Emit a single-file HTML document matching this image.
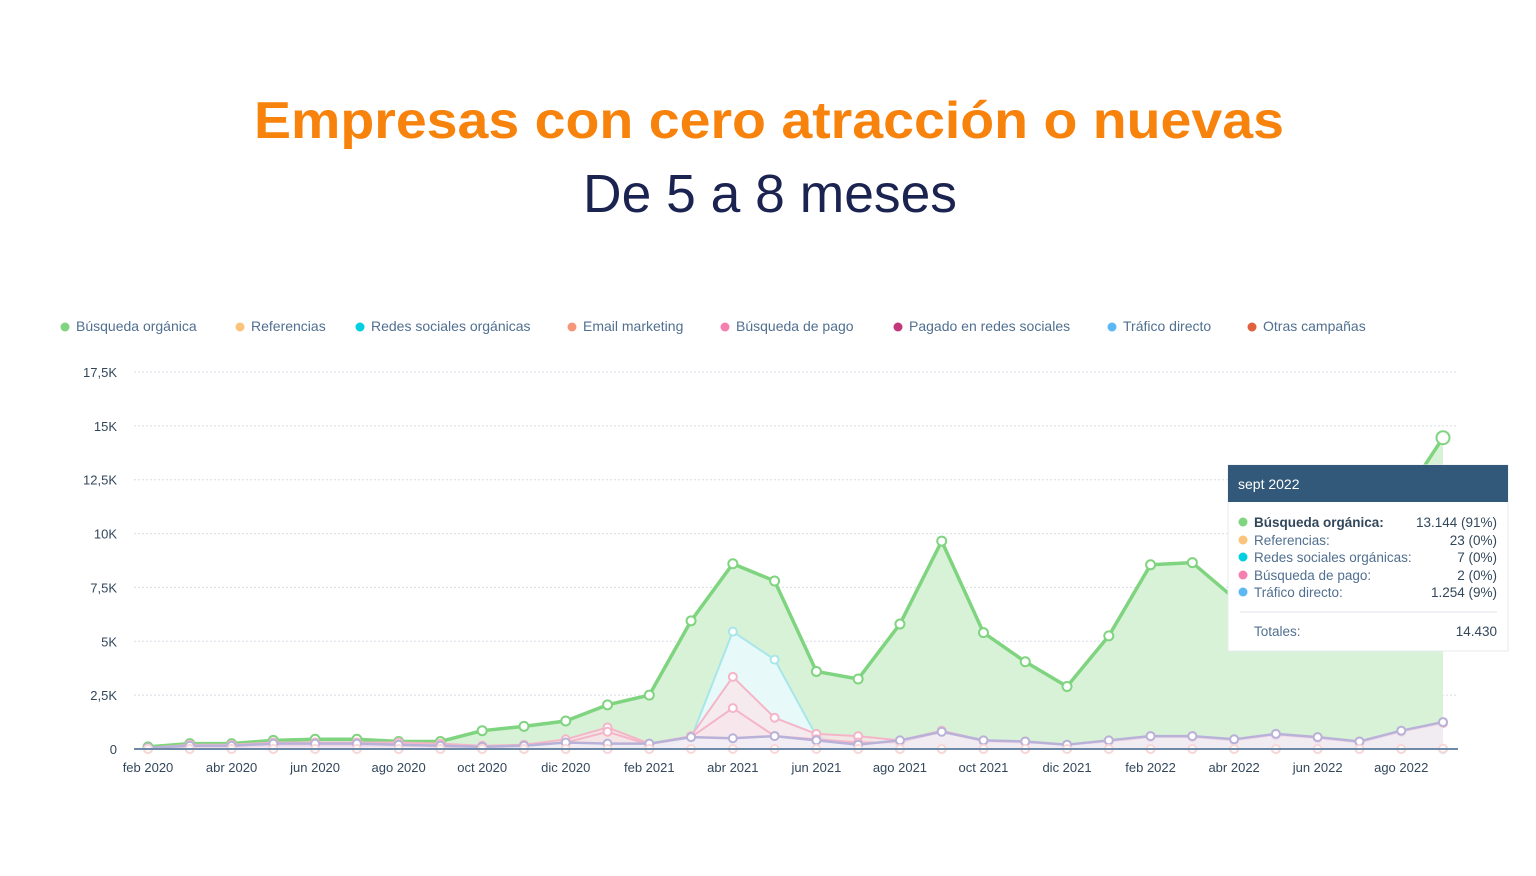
<!DOCTYPE html>
<html><head><meta charset="utf-8"><style>
html,body{margin:0;padding:0;background:#fff;}
svg{display:block;font-family:"Liberation Sans",sans-serif;}
</style></head><body>
<svg id="chart" width="1536" height="876" viewBox="0 0 1536 876">
<text x="769" y="138" text-anchor="middle" font-size="52" font-weight="bold" fill="#f7820c" textLength="1030" lengthAdjust="spacingAndGlyphs">Empresas con cero atracción o nuevas</text>
<text x="770" y="212" text-anchor="middle" font-size="54" fill="#1b2350" textLength="374" lengthAdjust="spacingAndGlyphs">De 5 a 8 meses</text>
<g id="legend"></g>
<g id="grid"></g>
<g id="series"></g>
<g id="xaxis"></g>
<g id="tooltip">
<rect x="1228" y="465" width="280" height="186" fill="#fff" stroke="#e6e9ee"/>
<rect x="1228" y="465" width="280" height="37" fill="#33597a"/>
<text x="1238" y="489" font-size="14" fill="#fff">sept 2022</text>
<circle cx="1243" cy="522" r="4.5" fill="#7fd47f"/><text x="1254" y="527" font-size="13.5" font-weight="bold" fill="#33475b">Búsqueda orgánica:</text><text x="1497" y="527" font-size="13.5" fill="#33475b" text-anchor="end">13.144 (91%)</text>
<circle cx="1243" cy="540" r="4.5" fill="#fcc37a"/><text x="1254" y="545" font-size="13.5" fill="#516f90">Referencias:</text><text x="1497" y="545" font-size="13.5" fill="#33475b" text-anchor="end">23 (0%)</text>
<circle cx="1243" cy="557" r="4.5" fill="#00cfe0"/><text x="1254" y="562" font-size="13.5" fill="#516f90">Redes sociales orgánicas:</text><text x="1497" y="562" font-size="13.5" fill="#33475b" text-anchor="end">7 (0%)</text>
<circle cx="1243" cy="575" r="4.5" fill="#f57fb0"/><text x="1254" y="580" font-size="13.5" fill="#516f90">Búsqueda de pago:</text><text x="1497" y="580" font-size="13.5" fill="#33475b" text-anchor="end">2 (0%)</text>
<circle cx="1243" cy="592" r="4.5" fill="#5cb8f5"/><text x="1254" y="597" font-size="13.5" fill="#516f90">Tráfico directo:</text><text x="1497" y="597" font-size="13.5" fill="#33475b" text-anchor="end">1.254 (9%)</text>
<line x1="1240" y1="612" x2="1497" y2="612" stroke="#dfe3eb"/>
<text x="1254" y="636" font-size="13.5" fill="#516f90">Totales:</text><text x="1497" y="636" font-size="13.5" fill="#33475b" text-anchor="end">14.430</text>
</g>
</svg>
<script>
const months=["feb 2020","mar 2020","abr 2020","may 2020","jun 2020","jul 2020","ago 2020","sep 2020","oct 2020","nov 2020","dic 2020","ene 2021","feb 2021","mar 2021","abr 2021","may 2021","jun 2021","jul 2021","ago 2021","sep 2021","oct 2021","nov 2021","dic 2021","ene 2022","feb 2022","mar 2022","abr 2022","may 2022","jun 2022","jul 2022","ago 2022","sept 2022"];
const yTicks=[0,2.5,5,7.5,10,12.5,15,17.5];
const yTickLabels=["0","2,5K","5K","7,5K","10K","12,5K","15K","17,5K"];
const organic=[0.1,0.25,0.25,0.4,0.45,0.45,0.35,0.35,0.85,1.05,1.3,2.05,2.5,5.95,8.6,7.8,3.6,3.25,5.8,9.65,5.4,4.05,2.9,5.25,8.55,8.65,7.0,6.6,7.6,9.2,11.5,14.45];
const social=[0,0,0,0,0,0,0,0,0,0,0,0,0,0.5,5.45,4.15,0.6,0,0,0,0,0,0,0,0,0,0,0,0,0,0,0];
const paid=[0.05,0.2,0.2,0.3,0.3,0.3,0.3,0.25,0.15,0.2,0.45,1.0,0.25,0.6,3.35,1.45,0.7,0.6,0.4,0.85,0.4,0.35,0.2,0.4,0.6,0.6,0.45,0.7,0.55,0.35,0.85,1.25];
const email=[0.05,0.1,0.1,0.15,0.15,0.15,0.15,0.1,0.1,0.15,0.3,0.8,0.2,0.55,1.9,0.6,0.45,0.3,0.3,0.8,0.35,0.3,0.2,0.35,0.55,0.55,0.4,0.65,0.5,0.3,0.8,1.2];
const direct=[0.05,0.15,0.15,0.25,0.25,0.25,0.2,0.15,0.1,0.15,0.3,0.25,0.25,0.55,0.5,0.6,0.4,0.2,0.4,0.8,0.4,0.35,0.2,0.4,0.6,0.6,0.45,0.7,0.55,0.35,0.85,1.25];
const referrals=[0,0,0,0,0,0,0,0,0,0,0,0,0,0,0,0,0,0,0,0,0,0,0,0,0,0,0,0,0,0,0,0.02];
const legendNames=["Búsqueda orgánica","Referencias","Redes sociales orgánicas","Email marketing","Búsqueda de pago","Pagado en redes sociales","Tráfico directo","Otras campañas"];
const legendColors=["#7fd47f","#fcc37a","#00cfe0","#f5967a","#f57fb0","#c2387a","#5cb8f5","#e0603f"];

const NS="http://www.w3.org/2000/svg";
const X0=148,X1=1443,Y0=749,PX_PER_K=(749-372)/17.5;
const xs=i=>X0+i*(X1-X0)/(months.length-1);
const ys=v=>Y0-v*PX_PER_K;
function mk(tag,attrs,parent){const e=document.createElementNS(NS,tag);for(const k in attrs)e.setAttribute(k,attrs[k]);parent.appendChild(e);return e;}

// legend
const lg=document.getElementById('legend');
const legendX=[60,235,355,567,720,893,1107,1247];
legendNames.forEach((n,i)=>{
  const g=mk('g',{},lg);
  
  
  mk('circle',{cx:legendX[i]+5,cy:327,r:4.5,fill:legendColors[i]},g);
  const t=mk('text',{x:legendX[i]+16,y:331,'font-size':14,fill:'#516f90'},g);
  t.textContent=n;
});
// grid
const gr=document.getElementById('grid');
yTicks.forEach((v,i)=>{
  if(i>0){const l=mk('line',{x1:134,x2:1456,y1:ys(v),y2:ys(v),stroke:'#d7dde5','stroke-dasharray':'2,2'},gr);
  
  }
  const t=mk('text',{x:117,y:ys(v)+5,'font-size':13,fill:'#33475b','text-anchor':'end'},gr);
  
  
  t.textContent=yTickLabels[i];
});
// series
const sg=document.getElementById('series');
function series(data,color,fill,fillOp,sw,r,name){
  const pts=data.map((v,i)=>xs(i)+','+ys(v));
  const a=mk('path',{d:'M'+xs(0)+','+Y0+' L'+pts.join(' L')+' L'+xs(data.length-1)+','+Y0+' Z',fill:fill,'fill-opacity':fillOp},sg);
  
  
  const l=mk('polyline',{points:pts.join(' '),fill:'none',stroke:color,'stroke-width':sw,'stroke-linejoin':'round'},sg);
  
  
  data.forEach((v,i)=>{
    const c=mk('circle',{cx:xs(i),cy:ys(v),r:(name==='organic'&&i===data.length-1)?6.5:r,fill:'#fff',stroke:color,'stroke-width':2},sg);
    
    
  });
}
series(organic,'#7fd47f','#d8f2d8',1,3.5,4.5,'organic');
series(social,'#a8e6ea','#e9fbfd',0.9,2,4,'social');
series(paid,'#f5b5c8','#fbe3ea',0.7,2,4,'paid');
series(email,'#f5b5c8','#fbe3ea',0.4,2,4,'email');
series(direct,'#b9b2d8','#eef0fa',0.6,2.5,4,'direct');
series(referrals,'#fbd6d6','none',0,1,4,'referrals');
// x axis
const xa=document.getElementById('xaxis');
const ax=mk('line',{x1:134,x2:1458,y1:Y0,y2:Y0,stroke:'#6c89a8','stroke-width':2},xa);


months.forEach((m,i)=>{
  if(i%2)return;
  const t=mk('text',{x:xs(i),y:772,'font-size':13,fill:'#33475b','text-anchor':'middle'},xa);
  
  
  t.textContent=m;
});
document.getElementById('chart').appendChild(document.getElementById('tooltip'));
</script>
</body></html>
